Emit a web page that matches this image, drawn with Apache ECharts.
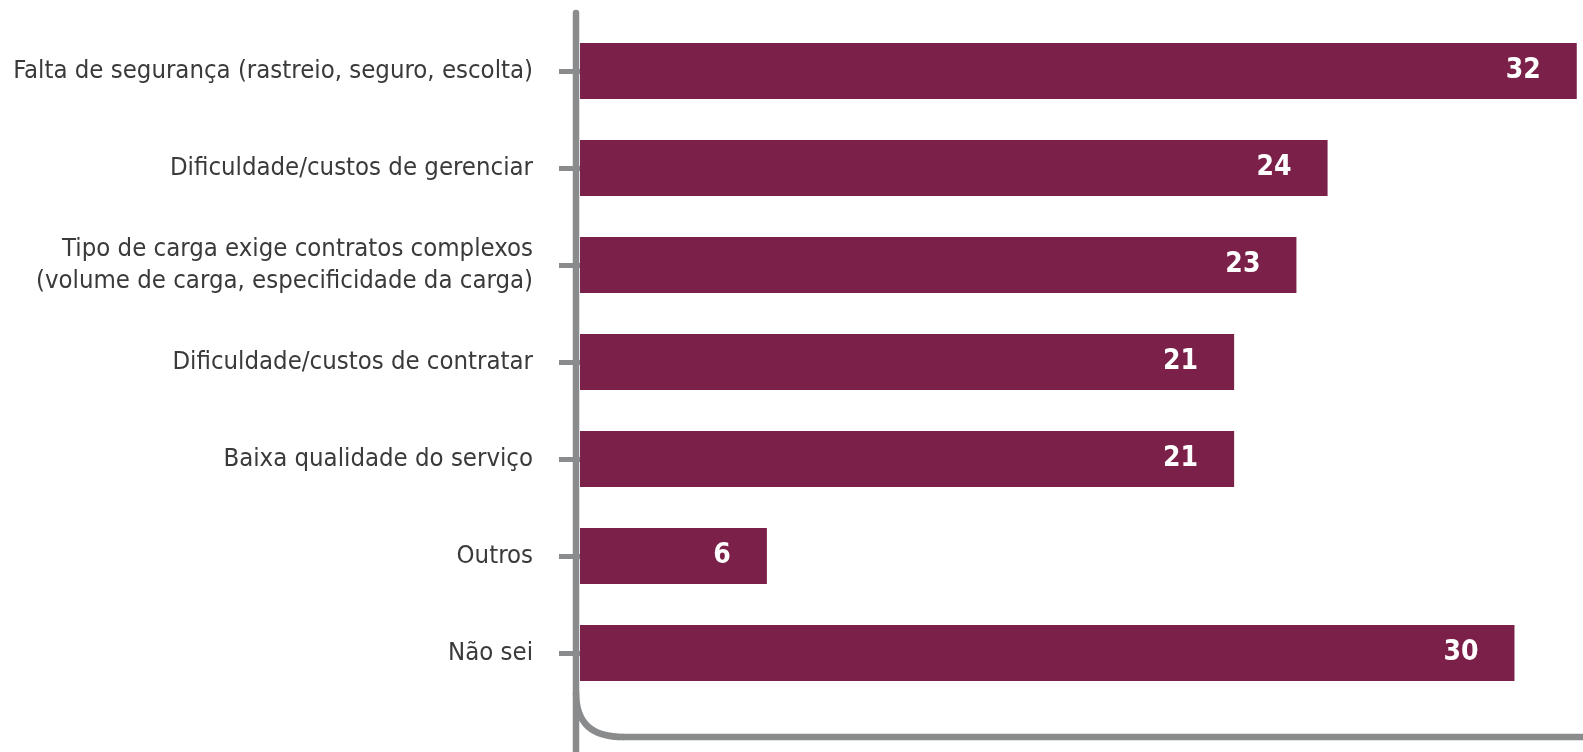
<!DOCTYPE html>
<html>
<head>
<meta charset="utf-8">
<script src="https://cdn.jsdelivr.net/npm/echarts@6/dist/echarts.min.js"></script>
<style>
html,body{margin:0;padding:0;background:#fff;}
#chart{width:1583px;height:752px;}
</style>
</head>
<body>
<div id="chart"></div>
<script>
const categories = [
  "Falta de segurança (rastreio, seguro, escolta)",
  "Dificuldade/custos de gerenciar",
  "Tipo de carga exige contratos complexos\n(volume de carga, especificidade da carga)",
  "Dificuldade/custos de contratar",
  "Baixa qualidade do serviço",
  "Outros",
  "Não sei"
];
const values = [32, 24, 23, 21, 21, 6, 30];

const FONT = "'Liberation Sans Narrow', 'DejaVu Sans Condensed', sans-serif";
const AXIS_COLOR = '#898b8d';
const chart = echarts.init(document.getElementById('chart'));
chart.setOption({
  animation: false,
  grid: { left: 580, top: 22.5, height: 679, width: 1021 },
  xAxis: {
    type: 'value', min: 0, max: 32.2,
    show: false
  },
  yAxis: {
    type: 'category',
    data: categories,
    inverse: true,
    offset: 4,
    axisLine: { show: false },
    axisTick: { show: true, alignWithLabel: true, length: 21, lineStyle: { color: AXIS_COLOR, width: 5 } },
    axisLabel: {
      margin: 43,
      color: '#3a3a3a',
      fontFamily: FONT,
      fontSize: 25.5,
      lineHeight: 32
    }
  },
  series: [{
    type: 'bar',
    data: values,
    barWidth: 56,
    itemStyle: { color: '#7B2149' },
    label: {
      show: true,
      position: 'insideRight',
      distance: 36,
      color: '#ffffff',
      fontFamily: FONT,
      fontWeight: 'bold',
      fontSize: 28
    }
  }],
  graphic: [
    { type: 'line', silent: true, shape: { x1: 576, y1: 13, x2: 576, y2: 760 },
      style: { stroke: AXIS_COLOR, lineWidth: 6.5, lineCap: 'round' } },
    { type: 'bezierCurve', silent: true,
      shape: { x1: 576, y1: 692, cpx1: 576, cpy1: 724, cpx2: 592, cpy2: 737, x2: 624, y2: 737 },
      style: { stroke: AXIS_COLOR, lineWidth: 6.5, fill: null } },
    { type: 'line', silent: true, shape: { x1: 623, y1: 737, x2: 1590, y2: 737 },
      style: { stroke: AXIS_COLOR, lineWidth: 6.5 } }
  ]
});
</script>
</body>
</html>
